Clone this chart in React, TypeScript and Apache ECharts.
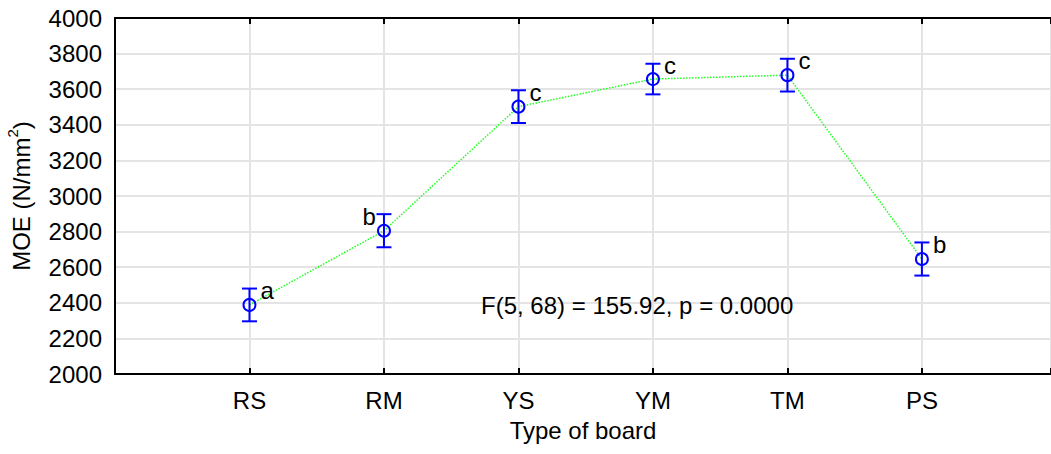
import React, { useEffect, useRef } from "react";
import * as echarts from "echarts";

const categories = ["RS", "RM", "YS", "YM", "TM", "PS"];
const means = [2388, 2805, 3502, 3657, 3679, 2646];
const errors = [92, 93, 92, 86, 92, 93];
const groupLetters = ["a", "b", "c", "c", "c", "b"];
const letterSide = ["right", "left", "right", "right", "right", "right"];
const yTicks = { min: 2000, max: 4000, step: 200 };
const statText = "F(5, 68) = 155.92, p = 0.0000";

const FONT = "'Liberation Sans', Arial, sans-serif";
const FS = 24;

export default function App() {
  const ref = useRef<HTMLDivElement>(null);
  useEffect(() => {
    if (!ref.current) return;
    const chart = echarts.init(ref.current, null, { renderer: "svg" });
    const pts = means.map((m, i) => [i, m, errors[i]]);
    chart.setOption({
      animation: false,
      backgroundColor: "#ffffff",
      textStyle: { fontFamily: FONT },
      grid: { left: 115, top: 18, right: 0, bottom: 80, containLabel: false, outerBoundsMode: "none" },
      xAxis: [
        {
          type: "value",
          min: -1,
          max: 5.96,
          interval: 1,
          name: "Type of board",
          nameLocation: "middle",
          nameGap: 44,
          nameTextStyle: { fontSize: FS, color: "#000", fontFamily: FONT },
          axisLine: { show: true, onZero: false, lineStyle: { color: "#000", width: 2 } },
          axisTick: { show: true, inside: true, length: 6, lineStyle: { color: "#000", width: 2 } },
          axisLabel: {
            fontSize: FS,
            color: "#000",
            margin: 14,
            fontFamily: FONT,
            formatter: (v: number) => {
              const r = Math.round(v);
              return Math.abs(v - r) < 1e-6 && r >= 0 && r < categories.length ? categories[r] : "";
            },
          },
          splitLine: { show: true, lineStyle: { color: "#e4e4e4", width: 2 } },
        },
        {
          type: "value",
          position: "top",
          min: -1,
          max: 5.96,
          interval: 1,
          axisLine: { show: true, onZero: false, lineStyle: { color: "#000", width: 2 } },
          axisTick: { show: true, inside: true, length: 6, lineStyle: { color: "#000", width: 2 } },
          axisLabel: { show: false },
          splitLine: { show: false },
        },
      ],
      yAxis: {
        type: "value",
        min: yTicks.min,
        max: yTicks.max,
        interval: yTicks.step,
        name: "{t|MOE (N/mm}{s|2}{t|)}",
        nameLocation: "middle",
        nameGap: 82,
        nameTextStyle: {
          color: "#000",
          rich: {
            t: { fontSize: FS, color: "#000", fontFamily: FONT, verticalAlign: "bottom", lineHeight: 28 },
            s: { fontSize: 15, color: "#000", fontFamily: FONT, verticalAlign: "top", lineHeight: 28, padding: [0, 0, 10, 0] },
          },
        },
        axisLine: { show: true, onZero: false, lineStyle: { color: "#000", width: 2 } },
        axisTick: { show: false },
        axisLabel: { fontSize: FS, color: "#000", margin: 13, fontFamily: FONT, formatter: (v: number) => String(v) },
        splitLine: { show: true, lineStyle: { color: "#e4e4e4", width: 2 } },
      },
      graphic: [
        {
          type: "text",
          left: 481,
          top: 293,
          style: { text: statText, fontSize: FS, fill: "#000", fontFamily: FONT },
          z: 10,
        },
      ],
      series: [
        {
          type: "line",
          data: means.map((m, i) => [i, m]),
          symbol: "none",
          lineStyle: { color: "#22ff22", width: 1.5, type: "dotted" },
          z: 2,
        },
        {
          type: "custom",
          data: pts,
          z: 3,
          renderItem: (params: any, api: any) => {
            const i = api.value(0);
            const m = api.value(1);
            const e = api.value(2);
            const c = api.coord([i, m]);
            const hi = api.coord([i, m + e]);
            const lo = api.coord([i, m - e]);
            const blue = "#0000ff";
            const cap = 7.5;
            const side = letterSide[params.dataIndex];
            return {
              type: "group",
              children: [
                { type: "line", shape: { x1: c[0], y1: hi[1], x2: c[0], y2: lo[1] }, style: { stroke: blue, lineWidth: 2 } },
                { type: "line", shape: { x1: c[0] - cap, y1: hi[1], x2: c[0] + cap, y2: hi[1] }, style: { stroke: blue, lineWidth: 2 } },
                { type: "line", shape: { x1: c[0] - cap, y1: lo[1], x2: c[0] + cap, y2: lo[1] }, style: { stroke: blue, lineWidth: 2 } },
                { type: "circle", shape: { cx: c[0], cy: c[1], r: 6 }, style: { stroke: blue, lineWidth: 2, fill: "none" } },
                {
                  type: "text",
                  x: side === "right" ? c[0] + 11 : c[0] - 8,
                  y: hi[1] + 2,
                  style: {
                    text: groupLetters[params.dataIndex],
                    fontSize: FS,
                    fontFamily: FONT,
                    fill: "#000",
                    align: side === "right" ? "left" : "right",
                    verticalAlign: "middle",
                  },
                },
              ],
            };
          },
        },
      ],
    });
    return () => chart.dispose();
  }, []);
  return (
    <div
      ref={ref}
      style={{ position: "fixed", left: 0, top: 0, width: 1051, height: 454, background: "#fff" }}
    />
  );
}
